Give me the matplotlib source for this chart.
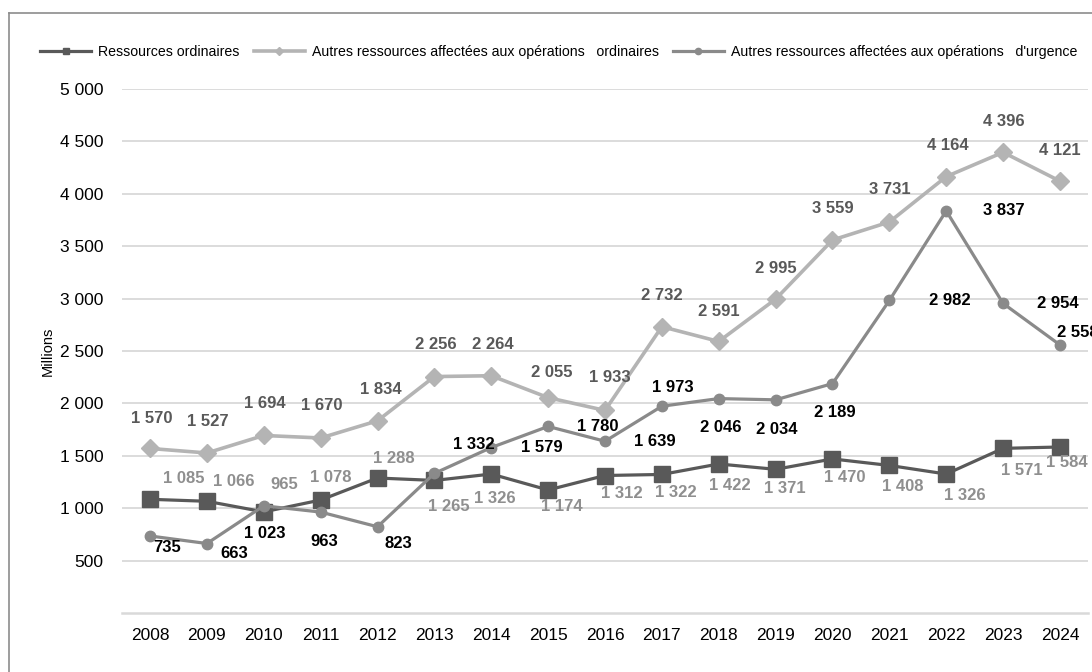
import matplotlib.pyplot as plt
from matplotlib.lines import Line2D

plt.rcParams['font.family'] = ['Liberation Sans', 'DejaVu Sans']

years = [str(y) for y in range(2008, 2025)]
ordinaires = [1085, 1066, 965, 1078, 1288, 1265, 1326, 1174, 1312, 1322,
              1422, 1371, 1470, 1408, 1326, 1571, 1584]
autres_ordinaires = [1570, 1527, 1694, 1670, 1834, 2256, 2264, 2055, 1933, 2732,
                     2591, 2995, 3559, 3731, 4164, 4396, 4121]
autres_urgence = [735, 663, 1023, 963, 823, 1332, 1579, 1780, 1639, 1973,
                  2046, 2034, 2189, 2982, 3837, 2954, 2558]

series_names = ["Ressources ordinaires",
                "Autres ressources affectées aux opérations   ordinaires",
                "Autres ressources affectées aux opérations   d'urgence"]

# label offsets in pixels (dx, dy) relative to each marker
off_ord = [(34, 21), (27, 20), (20, 27), (10, 23), (16, 20), (14, -26), (4, -24),
           (14, -17), (17, -18), (14, -18), (11, -22), (9, -19), (12, -19),
           (13, -21), (19, -21), (19, -22), (7, -16)]
off_aut = [(2, 30), (1, 31), (1, 32), (1, 32), (3, 31), (1, 32), (2, 31),
           (4, 25), (5, 33), (0, 31), (0, 30), (0, 31), (0, 32), (0, 32),
           (2, 31), (1, 31), (0, 31)]
off_urg = [(17, -12), (27, -10), (1, -28), (4, -29), (21, -17), (39, 29), (51, 0),
           (50, 0), (50, 0), (11, 19), (2, -29), (1, -30), (2, -29), (60, 0),
           (58, 0), (55, 0), (18, 12)]


def fmt(v):
    return f"{v:,}".replace(",", " ")


fig = plt.figure(figsize=(10.92, 6.72), dpi=100)
ax = fig.add_axes([121.6 / 1092, 1 - 613 / 672, (1088.4 - 121.6) / 1092, (613 - 89) / 672])

x = range(len(years))
ax.plot(x, ordinaires, color="#595959", lw=2.3, marker="s", ms=11.5, zorder=3)
ax.plot(x, autres_ordinaires, color="#b4b4b4", lw=2.6, marker="D", ms=9.5, zorder=3)
ax.plot(x, autres_urgence, color="#8a8a8a", lw=2.3, marker="o", ms=7.5, zorder=4)

for vals, offs, col in [(ordinaires, off_ord, "#8f8f8f"),
                        (autres_ordinaires, off_aut, "#595959"),
                        (autres_urgence, off_urg, "#000000")]:
    for i, v in enumerate(vals):
        ax.annotate(fmt(v), (i, v), xytext=offs[i], textcoords="offset pixels",
                    ha="center", va="center", fontsize=12, fontweight="bold",
                    color=col, annotation_clip=False, zorder=6)

ax.set_xlim(-0.5, len(years) - 0.5)
ax.set_ylim(0, 5000)
ax.set_yticks(range(500, 5001, 500))
ax.set_yticklabels([fmt(v) for v in range(500, 5001, 500)])
ax.set_xticks(list(x))
ax.set_xticklabels(years)
ax.tick_params(length=0, labelsize=12.5, colors="#000000")
ax.tick_params(axis="y", pad=13)
ax.tick_params(axis="x", pad=11)
ax.grid(axis="y", color="#d9d9d9", lw=1.3)
ax.set_axisbelow(True)
for s in ["top", "right", "left"]:
    ax.spines[s].set_visible(False)
ax.spines["bottom"].set_color("#d9d9d9")
ax.spines["bottom"].set_linewidth(1.8)
ax.set_ylabel("Millions", fontsize=10.5, labelpad=4)

handles = [Line2D([], [], color="#595959", lw=2.3, marker="s", ms=5),
           Line2D([], [], color="#b4b4b4", lw=2.6, marker="D", ms=4),
           Line2D([], [], color="#8a8a8a", lw=2.3, marker="o", ms=4.5)]
fig.legend(handles, series_names, loc="center left", bbox_to_anchor=(40 / 1092, 1 - 52 / 672),
           ncol=3, frameon=False, fontsize=10.2, handlelength=3.6, handletextpad=0.5,
           columnspacing=1.0, borderaxespad=0, borderpad=0)

# chart frame
fig.add_artist(Line2D([9 / 1092, 9 / 1092], [0, 1 - 13 / 672], color="#8c8c8c", lw=1.2))
fig.add_artist(Line2D([9 / 1092, 1], [1 - 13 / 672, 1 - 13 / 672], color="#8c8c8c", lw=1.2))

fig.savefig("out.png", dpi=100)
